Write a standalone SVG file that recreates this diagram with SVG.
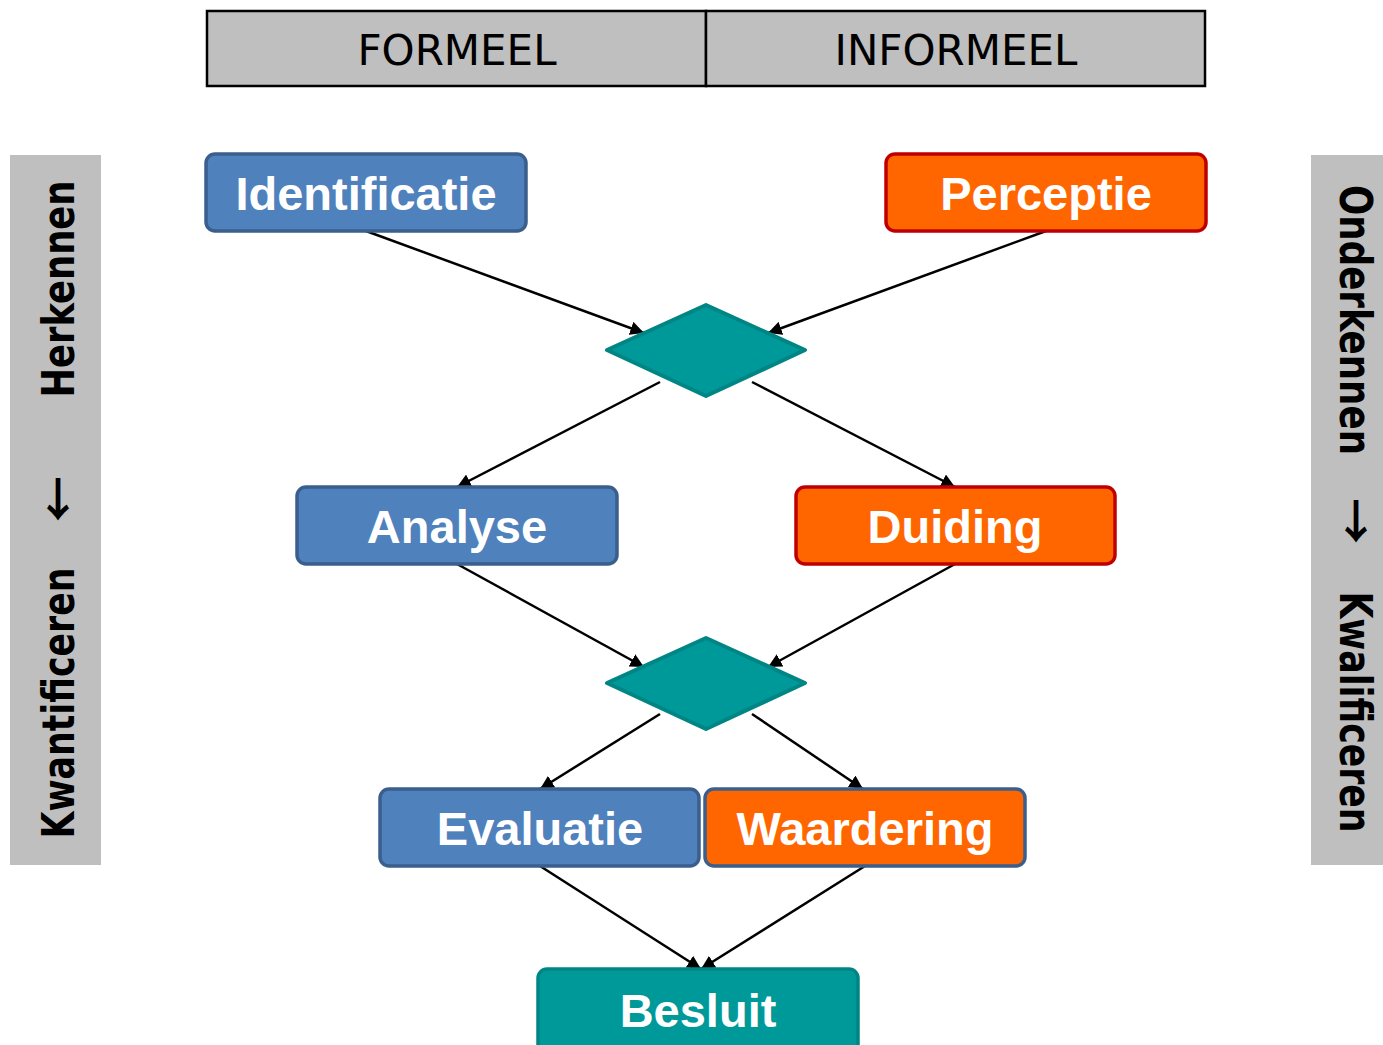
<svg xmlns="http://www.w3.org/2000/svg" width="1383" height="1045" viewBox="0 0 1383 1045">
<defs>
<marker id="ah" viewBox="0 0 10 10" refX="10" refY="5" markerWidth="5.5" markerHeight="5.5" orient="auto" markerUnits="strokeWidth">
<path d="M0,0 L10,5 L0,10 z" fill="#000"/>
</marker>
<style>
.hdr{fill:#BFBFBF;stroke:#000;stroke-width:2.5}
.hdrt{font-family:"DejaVu Sans",Verdana,sans-serif;font-size:42px;fill:#000;text-anchor:middle}
.side{fill:#BFBFBF}
.sidet{font-family:"DejaVu Sans Condensed","DejaVu Sans",sans-serif;font-weight:bold;font-size:44px;fill:#000;text-anchor:middle}
.arr{font-family:"Noto Sans CJK SC","DejaVu Sans",sans-serif;font-weight:bold;font-size:46px;fill:#000;text-anchor:middle}
.blue{fill:#4F81BD;stroke:#3A5F8C;stroke-width:3.5}
.orange{fill:#FF6600;stroke:#C00000;stroke-width:3.5}
.orangeb{fill:#FF6600;stroke:#3A5F8C;stroke-width:3.5}
.teal{fill:#009999;stroke:#008585;stroke-width:3.5}
.dia{fill:#009999;stroke:#008585;stroke-width:4;stroke-linejoin:round}
.nt{font-family:"Liberation Sans",Arial,sans-serif;font-weight:bold;font-size:47px;fill:#fff;text-anchor:middle}
.con{stroke:#000;stroke-width:2.5;fill:none;marker-end:url(#ah)}
</style>
</defs>
<rect width="1383" height="1045" fill="#fff"/>
<g id="header">
<rect class="hdr" x="207" y="11" width="499" height="75"/>
<rect class="hdr" x="706" y="11" width="499" height="75"/>
<text class="hdrt" x="457" y="65">FORMEEL</text>
<text class="hdrt" x="956" y="65">INFORMEEL</text>
</g>
<g id="left-bar">
<rect class="side" x="10" y="155" width="91" height="710"/>
<text class="sidet" transform="translate(74,289) rotate(-90)" textLength="217" lengthAdjust="spacingAndGlyphs">Herkennen</text>
<text class="arr" x="58" y="516">↓</text>
<text class="sidet" transform="translate(74,703) rotate(-90)" textLength="271" lengthAdjust="spacingAndGlyphs">Kwantificeren</text>
</g>
<g id="right-bar">
<rect class="side" x="1311" y="155" width="72" height="710"/>
<text class="sidet" transform="translate(1340,320) rotate(90)" textLength="270" lengthAdjust="spacingAndGlyphs">Onderkennen</text>
<text class="arr" x="1356" y="538">↓</text>
<text class="sidet" transform="translate(1340,712) rotate(90)" textLength="241" lengthAdjust="spacingAndGlyphs">Kwalificeren</text>
</g>
<g id="connectors">
<line class="con" x1="366" y1="231" x2="644" y2="333"/>
<line class="con" x1="1046" y1="231" x2="768" y2="333"/>
<line class="con" x1="660" y1="382" x2="457" y2="487"/>
<line class="con" x1="752" y1="382" x2="955" y2="487"/>
<line class="con" x1="457" y1="564" x2="644" y2="667"/>
<line class="con" x1="955" y1="564" x2="768" y2="667"/>
<line class="con" x1="660" y1="714" x2="540" y2="789"/>
<line class="con" x1="752" y1="714" x2="863" y2="789"/>
<line class="con" x1="540" y1="866" x2="701" y2="969"/>
<line class="con" x1="865" y1="866" x2="701" y2="969"/>
</g>
<g id="identificatie">
<rect class="blue" x="206" y="154" width="320" height="77" rx="9"/>
<text class="nt" x="366" y="210">Identificatie</text>
</g>
<g id="perceptie">
<rect class="orange" x="886" y="154" width="320" height="77" rx="9"/>
<text class="nt" x="1046" y="210">Perceptie</text>
</g>
<g id="decision1">
<polygon class="dia" points="706,305 805,350 706,396 607,350"/>
</g>
<g id="analyse">
<rect class="blue" x="297" y="487" width="320" height="77" rx="9"/>
<text class="nt" x="457" y="543">Analyse</text>
</g>
<g id="duiding">
<rect class="orange" x="796" y="487" width="319" height="77" rx="9"/>
<text class="nt" x="955" y="543">Duiding</text>
</g>
<g id="decision2">
<polygon class="dia" points="706,638 805,683 706,729 607,683"/>
</g>
<g id="evaluatie">
<rect class="blue" x="380" y="789" width="319" height="77" rx="9"/>
<text class="nt" x="540" y="845">Evaluatie</text>
</g>
<g id="waardering">
<rect class="orangeb" x="705" y="789" width="320" height="77" rx="9"/>
<text class="nt" x="865" y="845">Waardering</text>
</g>
<g id="besluit">
<rect class="teal" x="538" y="969" width="320" height="85" rx="9"/>
<text class="nt" x="698" y="1027">Besluit</text>
</g>
</svg>
